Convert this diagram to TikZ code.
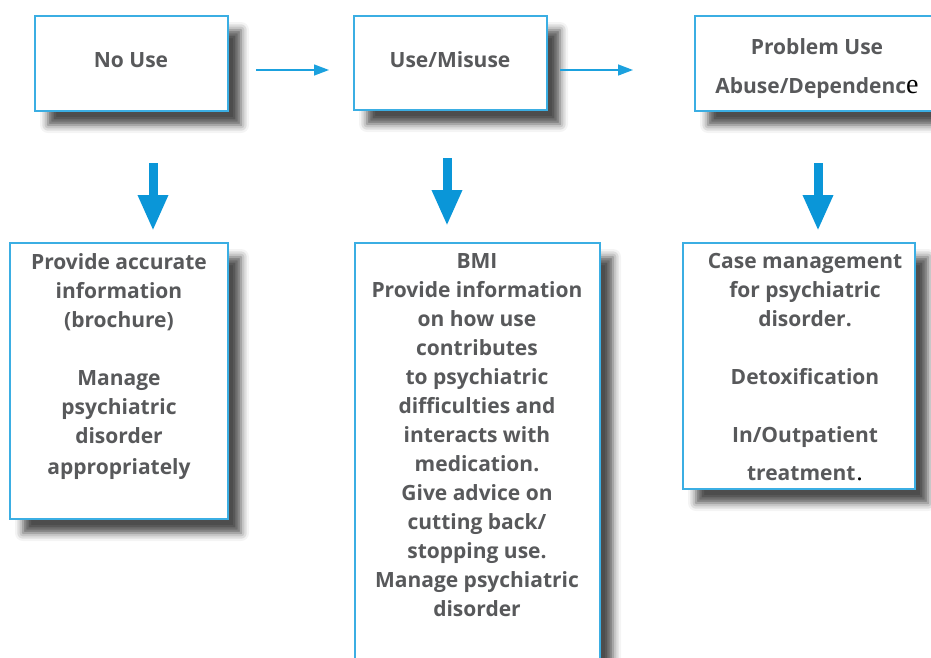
\documentclass[tikz,border=0pt]{standalone}
\usepackage{fontspec}
\setsansfont{Open Sans}
\newfontfamily\serifx{Liberation Serif}
\usetikzlibrary{arrows.meta,shadows.blur}
\definecolor{boxblue}{HTML}{3BAEE3}
\definecolor{arrblue}{HTML}{1BA1DE}
\definecolor{downblue}{HTML}{0A96D8}
\definecolor{txtgray}{HTML}{58595B}
\tikzset{
  box/.style={draw=boxblue, line width=1.3pt, fill=white, inner sep=0pt,
    blur shadow={shadow xshift=13pt, shadow yshift=-14pt, shadow blur radius=8pt, shadow opacity=70}},
  txt/.style={text=txtgray, font=\sffamily\bfseries\fontsize{21}{29}\selectfont, align=center, inner sep=0pt},
  harrow/.style={draw=arrblue, line width=1.4pt, -{Triangle[length=15pt,width=11pt]}},
  varrow/.style={draw=downblue, line width=9pt, -{Triangle[length=36pt,width=28pt]}}
}
\begin{document}
\begin{tikzpicture}[x=1pt,y=-1pt]
\useasboundingbox (0,0) rectangle (931,657);
% top boxes
\node[box, minimum width=193pt, minimum height=95pt] (b1) at (131.5,63.5) {};
\node[box, minimum width=193pt, minimum height=94pt] (b2) at (450.5,63) {};
\node[box, minimum width=240pt, minimum height=95pt] (b3) at (815,63.5) {};
% bottom boxes
\node[box, minimum width=218pt, minimum height=276pt] (b4) at (119,381) {};
\node[box, minimum width=245pt, minimum height=427pt] (b5) at (477.5,456.5) {};
\node[box, minimum width=232pt, minimum height=246pt] (b6) at (799,366) {};
% top texts
\node[txt] (t1) at (131,60) {No Use};
\node[txt] (t2) at (450,60) {Use/Misuse};
\node[txt, anchor=north, font=\sffamily\bfseries\fontsize{21}{39}\selectfont] (t3) at (817,38) {Problem Use\\Abuse/Dependenc{\serifx\mdseries\color{black}\fontsize{28}{39}\selectfont e}};
% bottom texts
\node[txt, anchor=north] (t4) at (119,253) {Provide accurate\\information\\(brochure)\\[29pt]Manage\\psychiatric\\disorder\\[2pt]appropriately};
\node[txt, anchor=north] (t5) at (477,253) {BMI\\Provide information\\on how use\\contributes\\to psychiatric\\difficulties and\\interacts with\\medication.\\Give advice on\\cutting back/\\stopping use.\\Manage psychiatric\\disorder};
\node[txt, anchor=north] (t6) at (805,253) {Case management\\for psychiatric\\disorder.\\[29pt]Detoxification\\[29pt]In/Outpatient\\[9pt]treatment{\serifx\mdseries\color{black}\fontsize{26}{29}\selectfont\kern1pt.}};
% horizontal arrows
\coordinate (h1s) at (256,70);
\coordinate (h1e) at (329,70);
\coordinate (h2s) at (560,70);
\coordinate (h2e) at (633,70);
\draw[harrow] (h1s) -- (h1e);
\draw[harrow] (h2s) -- (h2e);
% down arrows
\coordinate (d1s) at (153,163);
\coordinate (d1e) at (153,231);
\coordinate (d2s) at (447,158);
\coordinate (d2e) at (447,226);
\coordinate (d3s) at (818,163);
\coordinate (d3e) at (818,231);
\draw[varrow] (d1s) -- (d1e);
\draw[varrow] (d2s) -- (d2e);
\draw[varrow] (d3s) -- (d3e);
\end{tikzpicture}
\end{document}
